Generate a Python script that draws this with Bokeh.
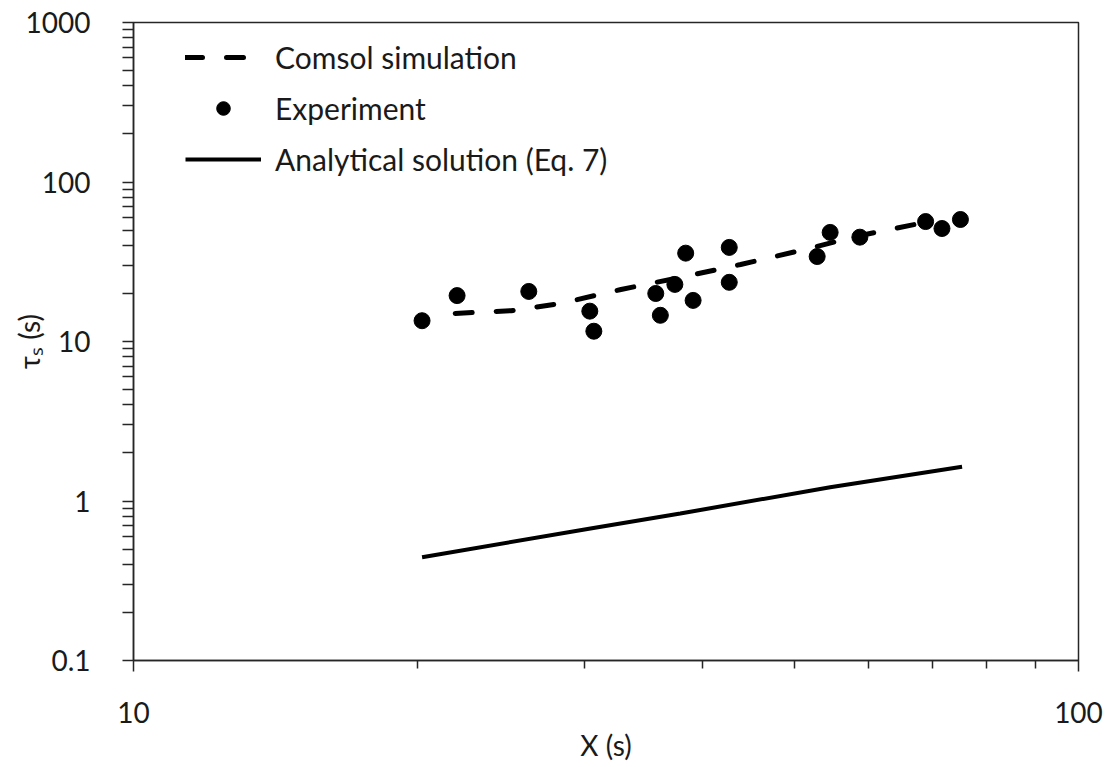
from bokeh.plotting import figure
from bokeh.models import FixedTicker, Legend, LegendItem
from bokeh.embed import file_html
from bokeh.resources import INLINE

# Experiment data
exp_x = [20.2, 22.0, 26.2, 30.4, 30.7, 35.7, 36.1, 37.4, 38.4, 39.1, 42.7, 42.7, 52.9, 54.6, 58.7, 68.9, 71.7, 75.0]
exp_y = [13.5, 19.4, 20.6, 15.5, 11.6, 20.0, 14.6, 22.8, 35.8, 18.1, 38.9, 23.5, 34.1, 48.3, 45.1, 56.5, 51.1, 58.2]

# Comsol simulation
sim_x = [21.9, 25.1, 28.3, 32.8, 37.9, 43.9, 50.8, 58.8, 70.0]
sim_y = [15.0, 15.6, 17.3, 21.2, 25.2, 30.4, 37.2, 46.2, 57.0]

# Analytical solution (Eq. 7)
ana_x = [20.2, 30.45, 37.9, 54.6, 75.3]
ana_y = [0.444, 0.672, 0.835, 1.22, 1.64]

x_major = [10, 100]
x_minor = [20, 30, 40, 50, 60, 70, 80, 90]
y_major = [0.1, 1, 10, 100, 1000]
y_minor = [m * d for d in [0.1, 1, 10, 100] for m in range(2, 10)]

FONT = "Lato"
TXT = "#1a1a1a"
AX = "#262626"

W, H = 1105, 765
p = figure(width=W, height=H, x_axis_type="log", y_axis_type="log",
           x_range=(10, 100), y_range=(0.1, 1000),
           output_backend="svg", toolbar_location=None,
           min_border_left=133, min_border_right=W - 1078, min_border_top=22, min_border_bottom=H - 660)
p.grid.visible = False
p.outline_line_color = AX
p.outline_line_width = 1.5
p.background_fill_color = "white"
p.border_fill_color = "white"

p.xaxis.ticker = FixedTicker(ticks=x_major, minor_ticks=x_minor)
p.yaxis.ticker = FixedTicker(ticks=y_major, minor_ticks=y_minor)
p.xaxis.major_label_overrides = {10: "10", 100: "100"}
p.yaxis.major_label_overrides = {0.1: "0.1", 1: "1", 10: "10", 100: "100", 1000: "1000"}

for ax in (p.xaxis[0], p.yaxis[0]):
    ax.axis_line_color = AX
    ax.axis_line_width = 1.5
    ax.major_tick_line_color = AX
    ax.minor_tick_line_color = AX
    ax.major_tick_line_width = 1.5
    ax.minor_tick_line_width = 1.5
    ax.major_tick_in = 0
    ax.minor_tick_in = 0
    ax.major_tick_out = 11
    ax.major_label_text_font = FONT
    ax.major_label_text_font_size = "28px"
    ax.major_label_text_color = TXT
    ax.axis_label_text_font = FONT
    ax.axis_label_text_font_size = "28px"
    ax.axis_label_text_color = TXT
    ax.axis_label_text_font_style = "normal"

p.xaxis.minor_tick_out = 8
p.yaxis.minor_tick_out = 11
p.xaxis.major_label_standoff = 30
p.yaxis.major_label_standoff = 32
p.xaxis.axis_label = "X (s)"
p.yaxis.axis_label = "τₛ (s)"
p.xaxis.axis_label_standoff = 2
p.yaxis.axis_label_standoff = -23

r_sim = p.line(sim_x, sim_y, line_color="black", line_width=5, line_dash="17 24", line_cap="round")
r_exp = p.scatter(exp_x, exp_y, size=16, marker="circle", fill_color="black", line_color="black")
r_ana = p.line(ana_x, ana_y, line_color="black", line_width=4)

legend = Legend(items=[LegendItem(label="Comsol simulation", renderers=[r_sim]),
                       LegendItem(label="Experiment", renderers=[r_exp]),
                       LegendItem(label="Analytical solution (Eq. 7)", renderers=[r_ana])],
                location=(52, 483), orientation="vertical",
                glyph_width=76, glyph_height=34, label_standoff=14, spacing=15,
                padding=0, margin=0, border_line_color=None, background_fill_alpha=0,
                label_text_font=FONT, label_text_font_size="30px", label_text_color=TXT,
                label_height=34)
p.add_layout(legend, "center")

open("out.html", "w").write(file_html(p, INLINE))
